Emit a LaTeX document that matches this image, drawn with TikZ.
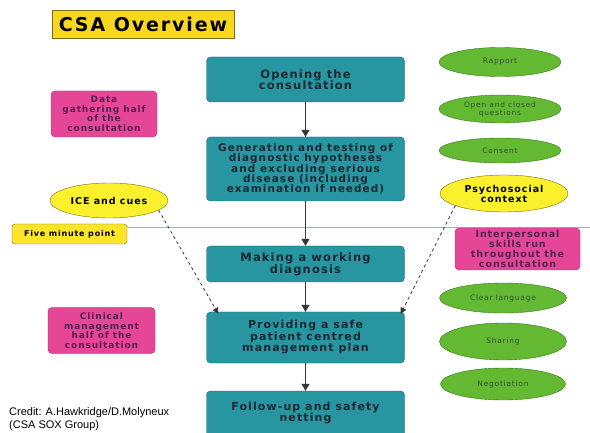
\documentclass[tikz,border=0pt]{standalone}
\usepackage{fontspec}
\setmainfont{DejaVu Sans}[LetterSpace=10]
\newfontfamily\creditfont{Liberation Sans}
\usetikzlibrary{arrows.meta, shapes.geometric}
\definecolor{StageTeal}{RGB}{40, 150, 160}
\definecolor{StageEdge}{RGB}{30, 110, 120}
\definecolor{StageText}{RGB}{30, 40, 50}
\definecolor{HalfPink}{RGB}{230, 70, 150}
\definecolor{HalfEdge}{RGB}{175, 45, 110}
\definecolor{HalfText}{RGB}{85, 30, 85}
\definecolor{SkillGreen}{RGB}{100, 185, 50}
\definecolor{SkillEdge}{RGB}{55, 120, 30}
\definecolor{SkillText}{RGB}{50, 80, 55}
\definecolor{CueYellow}{RGB}{250, 240, 45}
\definecolor{CueEdge}{RGB}{120, 110, 30}
\definecolor{TitleYellow}{RGB}{248, 215, 30}
\definecolor{FlowGrey}{RGB}{55, 55, 55}
\definecolor{FiveLine}{RGB}{235, 150, 150}

\begin{document}
\begin{tikzpicture}[x=1pt, y=-1pt,
        stage/.style={rectangle, draw=StageEdge, fill=StageTeal, rounded corners=4pt, minimum width=198pt, text=StageText, align=center, inner sep=2pt},
        half/.style={rectangle, draw=HalfEdge, fill=HalfPink, rounded corners=4pt, text=HalfText, align=center, inner sep=1pt, font=\bfseries\fontsize{9}{9.5}\selectfont},
        skill/.style={ellipse, draw=SkillEdge, fill=SkillGreen, minimum width=122pt, text=SkillText, align=center, inner sep=0pt, font=\fontsize{7.5}{8}\selectfont},
        cue/.style={ellipse, draw=CueEdge, fill=CueYellow, align=center, inner sep=0pt, font=\bfseries\fontsize{9.5}{10}\selectfont},
        line/.style={draw=FlowGrey, line width=1pt, -{Triangle[length=7pt, width=8pt]}},
        dashline/.style={draw=FlowGrey, line width=0.8pt, dashed, -{Triangle[length=6pt, width=6pt]}}
    ]
    \useasboundingbox (0,0) rectangle (590,433);
    \fill[white] (0,0) rectangle (590,433);

    % five minute mark
    \coordinate (rim) at (590,227);
    \node [rectangle, draw=CueEdge, fill=CueYellow!90!orange, rounded corners=3pt, minimum width=115pt, minimum height=20pt, inner sep=0pt, font=\bfseries\fontsize{8}{8}\selectfont] (five) at (69.5,234) {Five minute point};
    \draw [FiveLine, line width=0.8pt] ([yshift=7pt]five.east) -- (rim);

    \node [rectangle, draw=CueEdge, fill=TitleYellow, minimum width=182pt, minimum height=28pt, inner sep=0pt, font=\bfseries\fontsize{19}{19}\selectfont] (title) at (143,24) {CSA Overview};

    % main stages
    \node [stage, minimum height=45pt, font=\bfseries\fontsize{11.5}{11.5}\selectfont] (open) at (305.5,79.5) {Opening the\\consultation};
    \node [stage, minimum height=64pt, font=\bfseries\fontsize{10.5}{10.3}\selectfont] (gen) at (305.5,169) {Generation and testing of\\diagnostic hypotheses\\and excluding serious\\disease (including\\examination if needed)};
    \node [stage, minimum height=36pt, font=\bfseries\fontsize{11.5}{12}\selectfont] (work) at (305.5,264) {Making a working\\diagnosis};
    \node [stage, minimum height=51pt, font=\bfseries\fontsize{11}{11.5}\selectfont] (plan) at (305.5,337.5) {Providing a safe\\patient centred\\management plan};
    \node [stage, minimum height=50pt, font=\bfseries\fontsize{11}{11.5}\selectfont, text depth=8pt] (follow) at (305.5,416) {Follow-up and safety\\netting};

    \path [line] (open) -- (gen);
    \path [line] (gen) -- (work);
    \path [line] (work) -- (plan);
    \path [line] (plan) -- (follow);

    % halves
    \node [half, minimum width=106pt, minimum height=46pt] (data) at (104,114) {Data\\gathering half\\of the\\consultation};
    \node [half, minimum width=107pt, minimum height=46pt] (clinical) at (101.5,330.5) {Clinical\\management\\half of the\\consultation};
    \node [half, minimum width=125pt, minimum height=42pt, font=\bfseries\fontsize{9.5}{10}\selectfont] (inter) at (517.5,249) {Interpersonal\\skills run\\throughout the\\consultation};

    % context
    \node [cue, minimum width=118pt, minimum height=35pt] (ice) at (109,200.5) {ICE and cues};
    \node [cue, minimum width=128pt, minimum height=37pt] (psych) at (504,193.5) {Psychosocial\\context};
    \path [dashline] (ice.-11) -- ([xshift=12pt, yshift=-2pt]plan.north west);
    \path [dashline] (psych.194) -- ([xshift=-4pt, yshift=-2pt]plan.north east);

    % skills
    \node [skill, minimum height=29pt] (rapport) at (500,62) {Rapport};
    \node [skill, minimum height=28pt] (questions) at (500,109) {Open and closed\\questions};
    \node [skill, minimum height=25pt] (consent) at (500,150.5) {Consent};
    \node [skill, minimum width=127pt, minimum height=30pt] (clear) at (503,298) {Clear language};
    \node [skill, minimum width=127pt, minimum height=37pt] (sharing) at (503,341.5) {Sharing};
    \node [skill, minimum width=125pt, minimum height=32pt] (negotiation) at (503,384) {Negotiation};

    \node [anchor=south west, align=left, inner sep=0pt, font=\creditfont\fontsize{11}{13}\selectfont] (credit) at (9,431) {Credit: A.Hawkridge/D.Molyneux\\(CSA SOX Group)};
\end{tikzpicture}
\end{document}
